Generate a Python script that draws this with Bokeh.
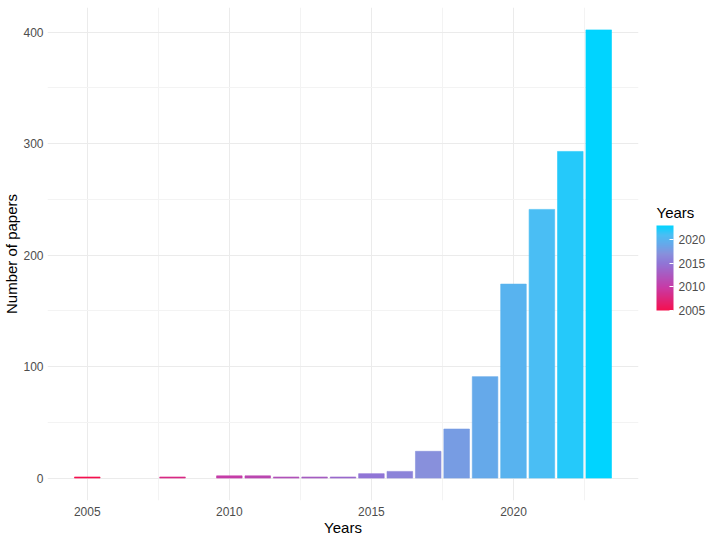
from bokeh.plotting import figure
from bokeh.models import ColumnDataSource, LinearColorMapper, ColorBar, FixedTicker, Range1d
from bokeh.embed import file_html
from bokeh.resources import INLINE

years = [2005, 2008, 2010, 2011, 2012, 2013, 2014, 2015, 2016, 2017, 2018, 2019, 2020, 2021, 2022, 2023]
papers = [1, 1, 2, 2, 1, 1, 1, 4, 6, 24, 44, 91, 174, 241, 293, 402]
x_ticks = [2005, 2010, 2015, 2020]
y_ticks = [0, 100, 200, 300, 400]

# gradient stops (year, colour)
stop_years = [2005, 2010, 2015, 2017, 2019, 2021, 2023]
stop_cols = ["#F5104F", "#C63CA8", "#9075D6", "#8890DC", "#66A8EA", "#4BBEF4", "#00D4FF"]


def hex2rgb(h):
    h = h.lstrip("#")
    return [int(h[i:i + 2], 16) for i in (0, 2, 4)]


def build_palette(n=256):
    lo, hi = stop_years[0], stop_years[-1]
    out = []
    for i in range(n):
        t = lo + (hi - lo) * i / (n - 1)
        for k in range(len(stop_years) - 1):
            if stop_years[k] <= t <= stop_years[k + 1]:
                f = (t - stop_years[k]) / (stop_years[k + 1] - stop_years[k])
                a, b = hex2rgb(stop_cols[k]), hex2rgb(stop_cols[k + 1])
                c = [round(a[j] + (b[j] - a[j]) * f) for j in range(3)]
                out.append("#%02x%02x%02x" % tuple(c))
                break
    return out


palette = build_palette()
mapper = LinearColorMapper(palette=palette, low=2005, high=2023)

source = ColumnDataSource(dict(year=years, papers=papers))

x0, x1 = 2003.6, 2024.4
y0, y1 = -20.1, 422.1

p = figure(width=709, height=538,
           output_backend="svg", toolbar_location=None,
           x_range=Range1d(x0, x1), y_range=Range1d(y0, y1),
           min_border_top=7, min_border_left=46, min_border_right=71, min_border_bottom=34)

p.vbar(x="year", top="papers", bottom=0, width=0.9, source=source,
       fill_color={"field": "year", "transform": mapper},
       line_color={"field": "year", "transform": mapper}, line_width=0.6)

p.outline_line_color = None
p.background_fill_color = "white"
p.border_fill_color = "white"

for ax in (p.xaxis, p.yaxis):
    ax.axis_line_color = None
    ax.major_tick_line_color = None
    ax.minor_tick_line_color = None
    ax.major_tick_out = 0
    ax.major_tick_in = 0
    ax.minor_tick_out = 0
    ax.minor_tick_in = 0
    ax.major_label_text_font = "Liberation Sans"
    ax.major_label_text_font_size = "12px"
    ax.major_label_text_color = "#4D4D4D"
    ax.axis_label_text_font = "Liberation Sans"
    ax.axis_label_text_font_size = "15px"
    ax.axis_label_text_font_style = "normal"
    ax.axis_label_text_color = "black"

p.xaxis.ticker = FixedTicker(ticks=x_ticks, minor_ticks=[2002.5, 2007.5, 2012.5, 2017.5, 2022.5])
p.yaxis.ticker = FixedTicker(ticks=y_ticks, minor_ticks=[50, 150, 250, 350])
p.xaxis.axis_label = "Years"
p.yaxis.axis_label = "Number of papers"
p.xaxis.major_label_standoff = 6
p.xaxis.axis_label_standoff = 0
p.yaxis.major_label_standoff = 4
p.yaxis.axis_label_standoff = 0

for g in (p.xgrid, p.ygrid):
    g.grid_line_color = "#EBEBEB"
    g.grid_line_width = 1
    g.minor_grid_line_color = "#F3F3F3"
    g.minor_grid_line_width = 1

color_bar = ColorBar(color_mapper=mapper, ticker=FixedTicker(ticks=x_ticks),
                     width=17, height=85, location=(609, 190),
                     title=None,
                     major_label_text_font="Liberation Sans",
                     major_label_text_font_size="12px",
                     major_label_text_color="#4D4D4D",
                     major_tick_line_color="white", major_tick_in=4, major_tick_out=0,
                     bar_line_color=None, border_line_color=None,
                     background_fill_color=None,
                     padding=0, margin=0, label_standoff=5)
p.add_layout(color_bar, "center")

# horizontal title for the colour bar (an invisible horizontal bar carrying the title)
title_bar = ColorBar(color_mapper=mapper, orientation="horizontal", ticker=FixedTicker(ticks=[]),
                     width=40, height=1, scale_alpha=0, location=(609, 278),
                     title="Years", title_text_font="Liberation Sans",
                     title_text_font_size="15px", title_text_font_style="normal",
                     title_text_color="black", title_standoff=2,
                     major_label_text_alpha=0, major_tick_line_color=None,
                     minor_tick_line_color=None,
                     bar_line_color=None, border_line_color=None,
                     background_fill_color=None, padding=0, margin=0)
p.add_layout(title_bar, "center")

open("out.html", "w").write(file_html(p, INLINE))
